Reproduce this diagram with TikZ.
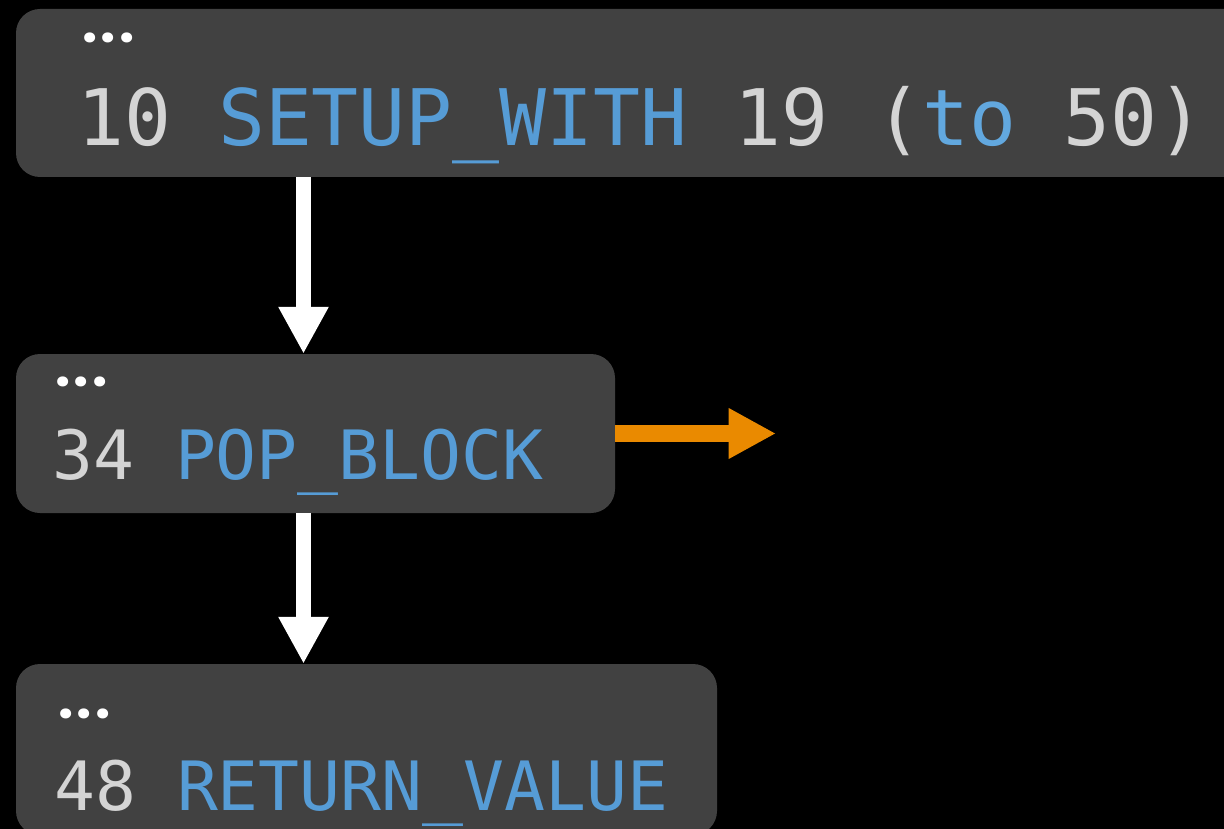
\documentclass[tikz,border=0pt]{standalone}
\usepackage{fontspec}
\usetikzlibrary{arrows.meta}
\newfontfamily\monof{DejaVu Sans Mono}
\newfontfamily\dotf{Poppins}
\definecolor{boxgray}{HTML}{414141}
\definecolor{txtgray}{HTML}{D4D4D4}
\definecolor{kwblue}{HTML}{569CD6}
\definecolor{toblue}{HTML}{62A8DF}
\definecolor{orng}{HTML}{EA8A00}
\newcommand{\threedots}{.\kern3.5pt.\kern3.5pt.}
\tikzset{
  codebox/.style={draw=none, fill=boxgray, rounded corners=24pt, rectangle, inner sep=0pt},
  codetxt/.style={anchor=base west, inner sep=0pt, text=txtgray},
  dotstxt/.style={anchor=base west, inner sep=0pt, text=white, font=\dotf\bfseries\fontsize{54pt}{56pt}\selectfont},
  warrow/.style={draw=white, line width=15.6pt, -{Triangle[length=47pt,width=47pt]}},
  oarrow/.style={draw=orng, line width=16.7pt, -{Triangle[length=47.5pt,width=47.5pt]}}
}
\begin{document}
\begin{tikzpicture}[x=1pt,y=-1pt]
\clip (0,0) rectangle (1224,829);
\fill[black] (0,0) rectangle (1224,829);
% boxes
\node[codebox, minimum width=1234pt, minimum height=168pt] (b1) at (633,93) {};
\node[codebox, minimum width=599pt, minimum height=159pt] (b2) at (315.5,433.5) {};
\node[codebox, minimum width=701pt, minimum height=171pt] (b3) at (366.5,749.5) {};
% ellipses
\node[dotstxt] (d1) at (82,43) {\threedots};
\node[dotstxt] (d2) at (55,386) {\threedots};
\node[dotstxt] (d3) at (58,718) {\threedots};
% code lines
\node[codetxt, font=\monof\fontsize{78pt}{80pt}\selectfont] (t1) at (77,146)
  {10 \textcolor{kwblue}{SETUP\_WITH} 19 (\textcolor{toblue}{to} 50)};
\node[codetxt, font=\monof\fontsize{68pt}{70pt}\selectfont] (t2) at (52,479)
  {34 \textcolor{kwblue}{POP\_BLOCK}};
\node[codetxt, font=\monof\fontsize{68pt}{70pt}\selectfont] (t3) at (54,810)
  {48 \textcolor{kwblue}{RETURN\_VALUE}};
% connectors
\coordinate (ax) at (303.5,0);
\coordinate (oend) at (776,433.5);
\draw[warrow] (ax |- b1.south) -- (ax |- b2.north);
\draw[warrow] (ax |- b2.south) -- (ax |- b3.north);
\draw[oarrow] (b2.east) -- (oend);
\end{tikzpicture}
\end{document}
